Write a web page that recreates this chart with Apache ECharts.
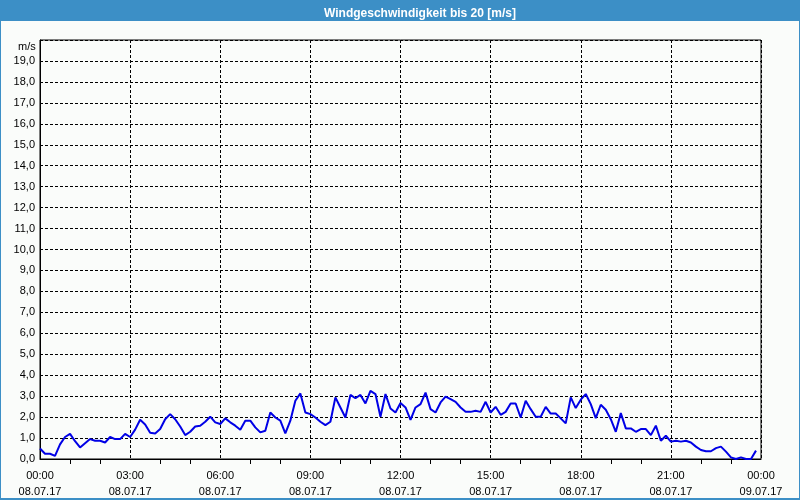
<!DOCTYPE html>
<html>
<head>
<meta charset="utf-8">
<script src="https://cdn.jsdelivr.net/npm/echarts@6/dist/echarts.min.js"></script>
<style>
html,body{margin:0;padding:0;background:#fafcfa;}
#frame{position:absolute;left:0;top:0;width:798px;height:498px;border-left:1px solid #3c8fc6;border-right:2px solid #3c8fc6;border-bottom:2px solid #3c8fc6;background:#fafcfa;}
#bar{position:absolute;left:0;top:0;width:800px;height:21px;background:#3c8fc6;}
#chart{position:absolute;left:0;top:0;width:800px;height:500px;}
</style>
</head>
<body>
<div id="frame"></div>
<div id="bar"></div>
<div id="chart"></div>
<script>
const titleText = 'Windgeschwindigkeit bis 20 [m/s]';
const unitLabel = 'm/s';
const dayStart = '08.07.17';
const dayEnd = '09.07.17';
// sample times in minutes after 00:00 (10-minute steps, 00:00 .. 23:50)
const minutes = [
  0,10,20,30,40,50,60,70,80,90,100,110,120,130,140,150,160,170,180,190,200,210,220,230,
  240,250,260,270,280,290,300,310,320,330,340,350,360,370,380,390,400,410,420,430,440,450,460,470,
  480,490,500,510,520,530,540,550,560,570,580,590,600,610,620,630,640,650,660,670,680,690,700,710,
  720,730,740,750,760,770,780,790,800,810,820,830,840,850,860,870,880,890,900,910,920,930,940,950,
  960,970,980,990,1000,1010,1020,1030,1040,1050,1060,1070,1080,1090,1100,1110,1120,1130,1140,1150,1160,1170,1180,1190,
  1200,1210,1220,1230,1240,1250,1260,1270,1280,1290,1300,1310,1320,1330,1340,1350,1360,1370,1380,1390,1400,1410,1420,1430
];
const windSpeed = [
  0.50,0.25,0.25,0.15,0.70,1.05,1.20,0.85,0.55,0.75,0.95,0.87,0.87,0.79,1.05,0.95,0.95,1.20,1.05,1.40,1.87,1.65,1.25,1.22,
  1.43,1.90,2.14,1.90,1.55,1.14,1.30,1.55,1.59,1.78,2.02,1.75,1.67,1.94,1.75,1.59,1.40,1.83,1.83,1.51,1.27,1.35,2.22,1.98,
  1.83,1.22,1.83,2.78,3.13,2.22,2.14,1.98,1.78,1.62,1.78,2.94,2.46,1.98,3.06,2.90,3.06,2.65,3.25,3.10,2.02,3.10,2.41,2.22,
  2.67,2.46,1.87,2.46,2.62,3.17,2.38,2.22,2.70,2.98,2.86,2.73,2.46,2.25,2.25,2.30,2.25,2.73,2.22,2.49,2.11,2.25,2.65,2.65,
  1.98,2.78,2.38,2.02,2.02,2.49,2.17,2.17,1.94,1.70,2.94,2.43,2.83,3.10,2.62,1.95,2.59,2.35,1.90,1.30,2.19,1.46,1.46,1.30,
  1.43,1.43,1.14,1.59,0.87,1.11,0.83,0.87,0.83,0.87,0.79,0.59,0.43,0.37,0.37,0.52,0.59,0.35,0.08,0.00,0.08,0.00,0.00,0.40
];

const chart = echarts.init(document.getElementById('chart'), null, {renderer: 'canvas'});
const font = 'Liberation Sans';
function pad(n){return (n<10?'0':'')+n;}
chart.setOption({
  animation: false,
  backgroundColor: 'transparent',
  title: {
    text: titleText,
    left: 415, top: 3, textAlign: 'center',
    textStyle: {color: '#ffffff', fontSize: 12, fontWeight: 'bold', fontFamily: font}
  },
  graphic: [{
    type: 'text', left: 18, top: 41,
    style: {text: unitLabel, fill: '#000', font: '11px "Liberation Sans"'}
  }],
  grid: {left: 40, right: 39, top: 40, bottom: 40, show: true, borderColor: '#000', borderWidth: 1, backgroundColor: 'transparent'},
  xAxis: {
    type: 'value', min: 0, max: 1440, interval: 180,
    axisLine: {show: true, lineStyle: {color: '#000', width: 1}},
    axisTick: {show: false},
    minorTick: {show: true, splitNumber: 3, length: 5, lineStyle: {color: '#000', width: 1}},
    splitLine: {show: true, lineStyle: {color: '#000', type: [3, 2], width: 1}},
    axisLabel: {
      color: '#000', fontSize: 11, fontFamily: font, lineHeight: 16, margin: 9,
      formatter: function(v){
        const h = Math.floor(v/60) % 24, m = v % 60;
        return pad(h)+':'+pad(m)+'\n'+(v>=1440?dayEnd:dayStart);
      }
    }
  },
  yAxis: {
    type: 'value', min: 0, max: 20, interval: 1,
    axisLine: {show: true, lineStyle: {color: '#000'}},
    axisTick: {show: false},
    splitLine: {show: true, lineStyle: {color: '#000', type: [3, 2], width: 1}},
    axisLabel: {
      color: '#000', fontSize: 11, fontFamily: font, margin: 5,
      formatter: function(v){ return v >= 20 ? '' : v.toFixed(1).replace('.', ','); }
    }
  },
  series: [{
    type: 'line',
    data: minutes.map((m, i) => [m, windSpeed[i]]),
    showSymbol: false,
    smooth: false,
    lineStyle: {color: '#0000e6', width: 2},
    itemStyle: {color: '#0000e6'}
  }]
});
</script>
</body>
</html>
